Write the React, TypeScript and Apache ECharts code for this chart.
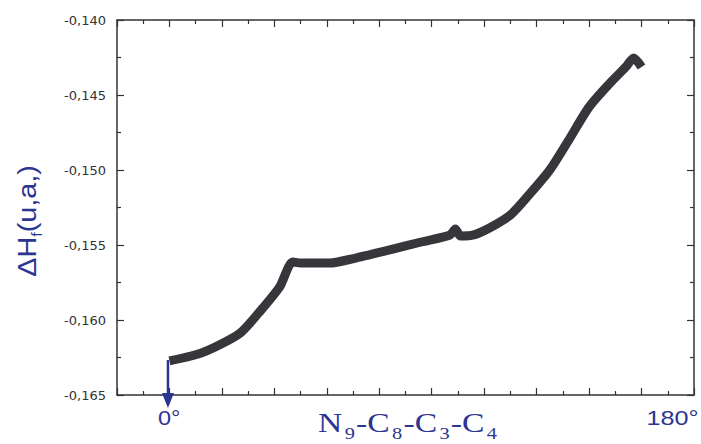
import React, { useEffect, useRef } from "react";
import * as echarts from "echarts";

// Dihedral angle N9-C8-C3-C4 (degrees)
const angles = [0, 11, 19, 27, 34, 42, 47, 50, 61, 71, 84, 96, 107, 109, 111, 116, 122, 130, 137, 145, 152, 160, 168, 174, 177, 180];
// ΔHf (u.a.)
const heats = [
  -0.16273, -0.16227, -0.16167, -0.16087, -0.15953, -0.1578, -0.15613, -0.1562, -0.1562, -0.15587,
  -0.15533, -0.1548, -0.15433, -0.15393, -0.1544, -0.15433, -0.15387, -0.153, -0.15167, -0.15,
  -0.14807, -0.1458, -0.1442, -0.14313, -0.14253, -0.14313,
];
const X_MIN = -20;
const X_MAX = 200;
const X_STEP = 20;
const Y_MIN = -0.165;
const Y_MAX = -0.14;
const Y_STEP = 0.005;
const xEndLabels = ["0°", "180°"];
const yTitle = ["ΔH", "f", "(u,a,)"];
const xTitle = ["N", "9", "-C", "8", "-C", "3", "-C", "4"];

const BLUE = "#2d3592";
const AXIS = "#333333";
const CURVE = "#37363b";

export default function App() {
  const ref = useRef<HTMLDivElement>(null);
  useEffect(() => {
    const chart = echarts.init(ref.current!, null, { renderer: "svg" });
    const tickCommon = {
      axisLine: { show: true, onZero: false, lineStyle: { color: AXIS, width: 1.5 } },
      axisTick: { show: true, inside: true, length: 7, lineStyle: { color: AXIS, width: 1.2 } },
      minorTick: { show: true, splitNumber: 2, length: 4, lineStyle: { color: AXIS, width: 1.2 } },
      splitLine: { show: false },
      minorSplitLine: { show: false },
    };
    const xBase = { type: "value" as const, min: X_MIN, max: X_MAX, interval: X_STEP, ...tickCommon, axisLabel: { show: false } };
    const yBase = { type: "value" as const, min: Y_MIN, max: Y_MAX, interval: Y_STEP, ...tickCommon };
    chart.setOption({
      animation: false,
      grid: { left: 117, right: 7, top: 20, bottom: 49 },
      xAxis: [
        { ...xBase, position: "bottom" },
        { ...xBase, position: "top" },
      ],
      yAxis: [
        {
          ...yBase,
          position: "left",
          axisLabel: {
            show: true,
            color: AXIS,
            fontFamily: "DejaVu Sans",
            fontSize: 13,
            margin: 11,
            formatter: (v: number) => v.toFixed(3).replace(".", ","),
          },
        },
        { ...yBase, position: "right", axisLabel: { show: false } },
      ],
      series: [
        {
          type: "line",
          xAxisIndex: 0,
          yAxisIndex: 0,
          data: angles.map((a, i) => [a, heats[i]]),
          showSymbol: false,
          smooth: 0.25,
          lineStyle: { color: CURVE, width: 9, join: "miter" },
          itemStyle: { color: CURVE },
          z: 3,
        },
      ],
    });

    const p0 = chart.convertToPixel({ xAxisIndex: 0, yAxisIndex: 0 }, [angles[0], heats[0]]) as number[];
    const pEnd = chart.convertToPixel({ xAxisIndex: 0, yAxisIndex: 0 }, [angles[angles.length - 1], Y_MIN]) as number[];
    const bottomY = pEnd[1];
    const ax = p0[0] - 1.5;

    chart.setOption({
      graphic: [
        {
          type: "line",
          z: 100,
          shape: { x1: ax, y1: p0[1] - 1, x2: ax, y2: bottomY + 2 },
          style: { stroke: BLUE, lineWidth: 2.5 },
        },
        {
          type: "polygon",
          z: 100,
          shape: { points: [[ax - 6, bottomY - 2], [ax + 6, bottomY - 2], [ax, bottomY + 13]] },
          style: { fill: BLUE },
        },
        {
          type: "text",
          x: ax - 10,
          y: bottomY + 33,
          scaleX: 1.12,
          style: {
            text: xEndLabels[0],
            fill: BLUE,
            font: "21px 'Liberation Sans'",
            textAlign: "left",
            textVerticalAlign: "bottom",
          },
        },
        {
          type: "text",
          x: pEnd[0] + 5,
          y: bottomY + 33,
          scaleX: 1.2,
          style: {
            text: xEndLabels[1],
            fill: BLUE,
            font: "21px 'Liberation Sans'",
            textAlign: "left",
            textVerticalAlign: "bottom",
          },
        },
        {
          type: "text",
          x: 318,
          y: bottomY + 47,
          scaleX: 1.2,
          style: {
            text: xTitle.map((t, i) => (i % 2 === 0 ? `{m|${t}}` : `{s|${t}}`)).join(""),
            fill: BLUE,
            textAlign: "left",
            textVerticalAlign: "bottom",
            rich: {
              m: { fontFamily: "Liberation Serif", fontSize: 28, lineHeight: 36, verticalAlign: "bottom", padding: [0, 0, 6, 0], fill: BLUE },
              s: { fontFamily: "Liberation Serif", fontSize: 17, lineHeight: 10, verticalAlign: "bottom", padding: [0, 1, 0, 2], fill: BLUE },
            },
          },
        },
        {
          type: "text",
          x: 28,
          y: 221,
          rotation: Math.PI / 2,
          scaleX: 1.15,
          style: {
            text: `{m|${yTitle[0]}}{s|${yTitle[1]}}{m|${yTitle[2]}}`,
            fill: BLUE,
            textAlign: "center",
            textVerticalAlign: "middle",
            rich: {
              m: { fontFamily: "Liberation Sans", fontSize: 25, lineHeight: 32, verticalAlign: "bottom", padding: [0, 0, 4, 0], fill: BLUE },
              s: { fontFamily: "Liberation Sans", fontSize: 14, lineHeight: 10, verticalAlign: "bottom", fill: BLUE },
            },
          },
        },
      ],
    });
    return () => chart.dispose();
  }, []);
  return <div ref={ref} style={{ position: "absolute", left: 0, top: 0, width: 701, height: 444, background: "#fff" }} />;
}
